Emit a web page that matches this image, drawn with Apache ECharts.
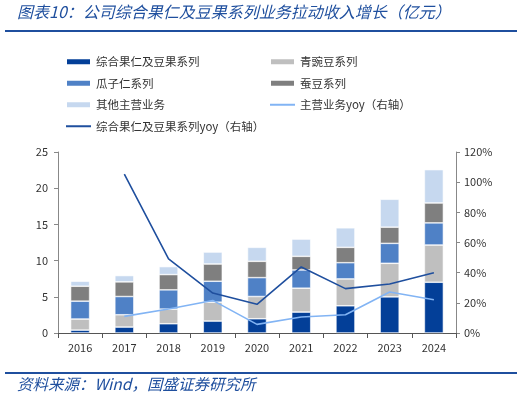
<!DOCTYPE html>
<html><head><meta charset="utf-8">
<script src="https://cdn.jsdelivr.net/npm/echarts@6/dist/echarts.min.js"></script>
<style>html,body{margin:0;padding:0;background:#fff}#c{width:526px;height:398px}</style>
</head><body><div id="c"></div>
<script>
var years = ['2016','2017','2018','2019','2020','2021','2022','2023','2024'];
var zonghe = [0.40, 0.82, 1.28, 1.65, 1.97, 2.89, 3.76, 4.99, 7.01];
var qingwandou = [1.53, 1.70, 2.02, 2.61, 3.07, 3.30, 3.71, 4.64, 5.14];
var guaziren = [2.47, 2.52, 2.66, 2.89, 2.61, 2.52, 2.24, 2.75, 3.06];
var candou = [2.06, 2.02, 2.11, 2.38, 2.25, 1.88, 2.12, 2.24, 2.75];
var qita = [0.69, 0.87, 1.10, 1.65, 1.93, 2.38, 2.70, 3.85, 4.60];
var zhuyingYoy = [null, 11.0, 15.9, 21.6, 5.7, 10.6, 12.1, 27.2, 22.1];
var zongheYoy = [null, 105.4, 49.1, 26.5, 19.0, 43.8, 29.4, 32.5, 40.0];
var leftTicks = {min: 0, max: 25, interval: 5};
var rightTicks = {min: 0, max: 120, interval: 20};

var names = ['综合果仁及豆果系列','青豌豆系列','瓜子仁系列','蚕豆系列','其他主营业务','主营业务yoy（右轴）','综合果仁及豆果系列yoy（右轴）'];
var colors = ['#033f98','#bfbfbf','#4f81c6','#7f7f7f','#c6d8ef','#82b4f4','#1f4f9e'];
var font = '"Noto Sans CJK SC", sans-serif';

function bar(i, data){
  return {name: names[i], type:'bar', stack:'s', data:data, barWidth:19,
    itemStyle:{color:colors[i], borderColor:'#fff', borderWidth:0.6}};
}
function line(i, data){
  return {name: names[i], type:'line', yAxisIndex:1, data:data, symbol:'none',
    lineStyle:{color:colors[i], width:1.6}, itemStyle:{color:colors[i]}};
}
var legendText = {fontFamily:font, fontSize:11.5, color:'#333'};
var chart = echarts.init(document.getElementById('c'));
chart.setOption({
  animation:false,
  color: colors,
  graphic:[
    {type:'text', left:17, top:4, style:{text:'图表10：公司综合果仁及豆果系列业务拉动收入增长（亿元）', fill:'#1f4f9e', font:'italic 16px "Noto Sans CJK SC"'}},
    {type:'rect', shape:{x:5, y:30, width:512, height:2}, style:{fill:'#1f4f9e'}},
    {type:'rect', shape:{x:5, y:372, width:512, height:2}, style:{fill:'#1f4f9e'}},
    {type:'text', left:17, top:376, style:{text:'资料来源：Wind，国盛证券研究所', fill:'#1f4f9e', font:'italic 15.5px "Noto Sans CJK SC"'}}
  ],
  legend:[
    {orient:'vertical', left:60, top:51, itemWidth:25, itemHeight:7, itemGap:10, textStyle:legendText,
      data:[{name:names[0], icon:'rect'},{name:names[2], icon:'rect'},{name:names[4], icon:'rect'},{name:names[6], itemStyle:{opacity:0}}]},
    {orient:'vertical', left:264, top:51, itemWidth:25, itemHeight:7, itemGap:10, textStyle:legendText,
      data:[{name:names[1], icon:'rect'},{name:names[3], icon:'rect'},{name:names[5], itemStyle:{opacity:0}}]}
  ],
  grid:{left:58, right:70, top:152, bottom:65},
  xAxis:{type:'category', data:years,
    axisLine:{lineStyle:{color:'#555'}},
    axisTick:{show:true, length:5, lineStyle:{color:'#555'}},
    axisLabel:{fontFamily:font, fontSize:11, color:'#333', margin:9}},
  yAxis:[
    {type:'value', min:leftTicks.min, max:leftTicks.max, interval:leftTicks.interval,
      axisLine:{show:true, lineStyle:{color:'#888'}}, axisTick:{show:true, length:4, lineStyle:{color:'#888'}},
      splitLine:{show:false}, axisLabel:{fontFamily:font, fontSize:11, color:'#333', margin:10}},
    {type:'value', min:rightTicks.min, max:rightTicks.max, interval:rightTicks.interval, position:'right',
      axisLine:{show:true, lineStyle:{color:'#888'}}, axisTick:{show:true, length:4, lineStyle:{color:'#888'}},
      splitLine:{show:false}, axisLabel:{fontFamily:font, fontSize:11, color:'#333', margin:8, formatter:'{value}%'}}
  ],
  series:[
    bar(0, zonghe), bar(1, qingwandou), bar(2, guaziren), bar(3, candou), bar(4, qita),
    line(5, zhuyingYoy), line(6, zongheYoy)
  ]
});
</script></body></html>
